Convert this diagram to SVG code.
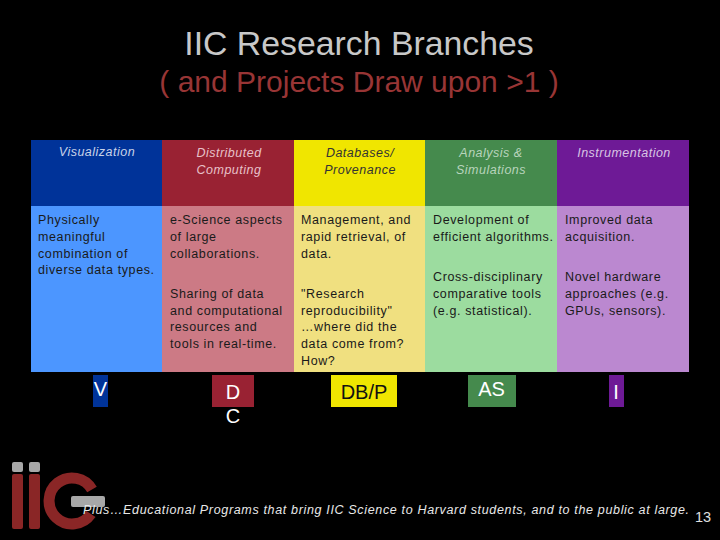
<svg xmlns="http://www.w3.org/2000/svg" width="720" height="540" viewBox="0 0 720 540">
<style>
text{font-family:"Liberation Sans",Arial,sans-serif}
.t{font-size:33.800px;fill:#c8c8c8;text-anchor:middle}
.s{font-size:30px;fill:#983535;text-anchor:middle}
.h{font-size:12.5px;font-style:italic;text-anchor:middle;letter-spacing:.5px}
.b{font-size:12.5px;fill:#1a1a1a;letter-spacing:.62px}
.l{font-size:20px;text-anchor:middle}
.w{fill:#fff}
</style>
<rect width="720" height="540" fill="#000"/>
<g id="title"><text class="t" x="359" y="55">IIC Research Branches</text><text class="s" x="359" y="92">( and Projects Draw upon &gt;1 )</text></g>
<g id="logo">
<rect x="12" y="462" width="11" height="10" rx="2" fill="#a8a8a8"/><rect x="29" y="462" width="11" height="10" rx="2" fill="#a8a8a8"/>
<rect x="12" y="474" width="11" height="55" rx="2" fill="#8a2626"/><rect x="29" y="474" width="11" height="55" rx="2" fill="#8a2626"/>
<path d="M92 489.500A23 23 0 1 0 91 514" fill="none" stroke="#8a2626" stroke-width="11"/>
<rect x="71" y="496" width="34" height="11" rx="2" fill="#a8a8a8"/>
</g>
<g id="col-v">
<rect x="31" y="140" width="131" height="66" fill="#003399"/><rect x="31" y="206" width="131" height="166" fill="#4c96ff"/>
<text class="h" x="97" y="156" fill="#c8d2e8">Visualization</text>
<text class="b"><tspan x="38" y="224">Physically</tspan><tspan x="38" y="241">meaningful</tspan><tspan x="38" y="258">combination of</tspan><tspan x="38" y="274">diverse data types.</tspan></text>
<rect x="93" y="375" width="15" height="32" fill="#003399"/><text class="l w" x="100.500" y="396">V</text>
</g>
<g id="col-dc">
<rect x="162" y="140" width="132" height="66" fill="#992233"/><rect x="162" y="206" width="132" height="166" fill="#cc7a85"/>
<text class="h" x="229" y="157" fill="#e8c0c8">Distributed</text><text class="h" x="229" y="174" fill="#e8c0c8">Computing</text>
<text class="b"><tspan x="170" y="224">e-Science aspects</tspan><tspan x="170" y="241">of large</tspan><tspan x="170" y="258">collaborations.</tspan><tspan x="170" y="298">Sharing of data</tspan><tspan x="170" y="315">and computational</tspan><tspan x="170" y="331">resources and</tspan><tspan x="170" y="348">tools in real-time.</tspan></text>
<rect x="212" y="375" width="42" height="32" fill="#992233"/><text class="l w" x="233" y="399">D</text><text class="l w" x="233" y="423">C</text>
</g>
<g id="col-dbp">
<rect x="294" y="140" width="131" height="66" fill="#f0e600"/><rect x="294" y="206" width="131" height="166" fill="#f0e080"/>
<text class="h" x="360" y="157" fill="#333">Databases/</text><text class="h" x="360" y="174" fill="#333">Provenance</text>
<text class="b"><tspan x="301" y="224">Management, and</tspan><tspan x="301" y="241">rapid retrieval, of</tspan><tspan x="301" y="258">data.</tspan><tspan x="301" y="298">"Research</tspan><tspan x="301" y="315">reproducibility"</tspan><tspan x="301" y="331">…where did the</tspan><tspan x="301" y="348">data come from?</tspan><tspan x="301" y="365">How?</tspan></text>
<rect x="331" y="375" width="66" height="32" fill="#f0e600"/><text class="l" x="364" y="399" fill="#111">DB/P</text>
</g>
<g id="col-as">
<rect x="425" y="140" width="132" height="66" fill="#458a4d"/><rect x="425" y="206" width="132" height="166" fill="#9cdc9f"/>
<text class="h" x="491" y="157" fill="#b8d4bc">Analysis &amp;</text><text class="h" x="491" y="174" fill="#b8d4bc">Simulations</text>
<text class="b"><tspan x="433" y="224">Development of</tspan><tspan x="433" y="241">efficient algorithms.</tspan><tspan x="433" y="281">Cross-disciplinary</tspan><tspan x="433" y="298">comparative tools</tspan><tspan x="433" y="315">(e.g. statistical).</tspan></text>
<rect x="468" y="375" width="48" height="32" fill="#458a4d"/><text class="l w" x="491.500" y="396">AS</text>
</g>
<g id="col-i">
<rect x="557" y="140" width="132" height="66" fill="#6e1a96"/><rect x="557" y="206" width="132" height="166" fill="#bb88d0"/>
<text class="h" x="624" y="157" fill="#d8c4e4">Instrumentation</text>
<text class="b"><tspan x="565" y="224">Improved data</tspan><tspan x="565" y="241">acquisition.</tspan><tspan x="565" y="281">Novel hardware</tspan><tspan x="565" y="298">approaches (e.g.</tspan><tspan x="565" y="315">GPUs, sensors).</tspan></text>
<rect x="609" y="375" width="15" height="32" fill="#6e1a96"/><text class="l w" x="616" y="399">I</text>
</g>
<g id="footer"><text x="83" y="514" font-size="12.500" font-style="italic" fill="#e8e8e8" letter-spacing=".66">Plus…Educational Programs that bring IIC Science to Harvard students, and to the public at large.</text><text x="695" y="522" font-size="14.500" fill="#e0e0e0">13</text></g>
</svg>
